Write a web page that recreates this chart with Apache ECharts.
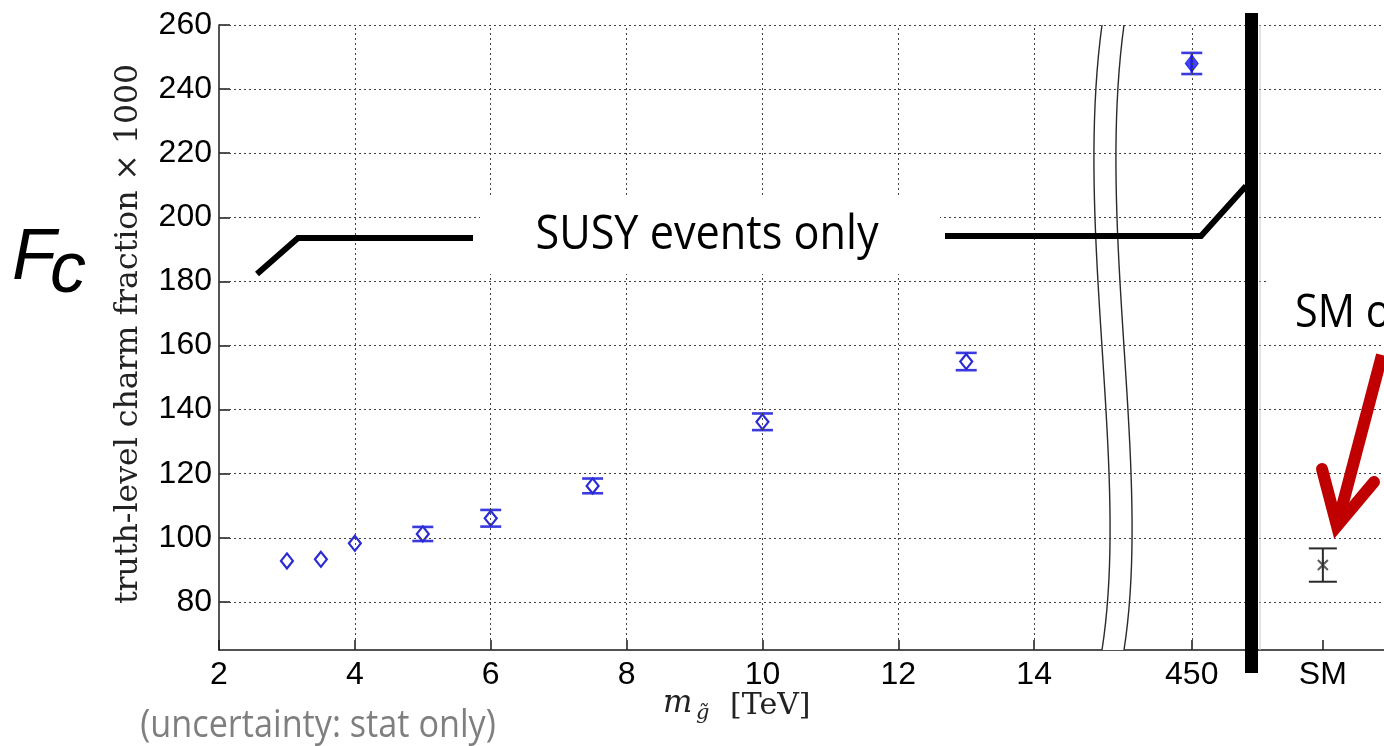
<!DOCTYPE html>
<html>
<head>
<meta charset="utf-8">
<script src="https://cdn.jsdelivr.net/npm/echarts@6/dist/echarts.min.js"></script>
<style>
  html, body { margin: 0; padding: 0; background: #ffffff; }
  #chart { width: 1384px; height: 746px; }
</style>
</head>
<body>
<div id="chart"></div>
<script>
// SUSY samples: gluino mass (TeV) vs truth-level charm fraction (x1000), stat. errors
const gluinoMass = [3, 3.5, 4, 5, 6, 7.5, 10, 13];
const charmFrac  = [92.8, 93.3, 98.3, 101.2, 106.1, 116.2, 136.2, 155.0];
const charmErr   = [0, 0, 0, 2.2, 2.6, 2.3, 2.6, 2.7];

// 450 TeV sample, drawn past the axis break
const heavyPos  = [16.32];
const heavyFrac = [248.0];
const heavyErr  = [3.3];

// Standard Model sample
const smPos  = [18.25];
const smFrac = [91.5];
const smErr  = [5.2];

// axis ticks
const xTicks      = [2, 4, 6, 8, 10, 12, 14, 16.32, 18.25];
const xTickLabels = ['2', '4', '6', '8', '10', '12', '14', '450', 'SM'];
const xGridTicks  = [4, 6, 8, 10, 12, 14, 16.32];
const yTicks      = [80, 100, 120, 140, 160, 180, 200, 220, 240, 260];

const BLUE = '#2b2bd6';
const GRID_STYLE = { color: '#444444', width: 1, type: [2, 3] };

const chart = echarts.init(document.getElementById('chart'));

function errorBars(capPx, color, width) {
  return function (params, api) {
    const x = api.value(0), y = api.value(1), e = api.value(2);
    if (!e) return { type: 'group', children: [] };
    const top = api.coord([x, y + e]);
    const bot = api.coord([x, y - e]);
    const st = { stroke: color, lineWidth: width, fill: null };
    return {
      type: 'group',
      children: [
        { type: 'line', shape: { x1: top[0], y1: top[1], x2: bot[0], y2: bot[1] }, style: st },
        { type: 'line', shape: { x1: top[0] - capPx / 2, y1: top[1], x2: top[0] + capPx / 2, y2: top[1] }, style: st },
        { type: 'line', shape: { x1: bot[0] - capPx / 2, y1: bot[1], x2: bot[0] + capPx / 2, y2: bot[1] }, style: st }
      ]
    };
  };
}

// axis-break band: two wavy strokes with a white gap between them
function bezierPts(x0, y0, c1x, c1y, c2x, c2y, x1, y1, n) {
  const pts = [];
  for (let i = 0; i <= n; i++) {
    const t = i / n, u = 1 - t;
    pts.push([
      u * u * u * x0 + 3 * u * u * t * c1x + 3 * u * t * t * c2x + t * t * t * x1,
      u * u * u * y0 + 3 * u * u * t * c1y + 3 * u * t * t * c2y + t * t * t * y1
    ]);
  }
  return pts;
}
const breakL = bezierPts(1102, 25, 1074, 230, 1130, 470, 1102, 650, 40);
const breakR = bezierPts(1124, 25, 1096, 230, 1152, 470, 1124, 650, 40);
const breakMask = breakL.concat(breakR.slice().reverse());

const option = {
  animation: false,
  backgroundColor: '#ffffff',
  grid: { left: 219, right: 0, top: 25, bottom: 96, containLabel: false, outerBoundsMode: 'none' },
  xAxis: {
    type: 'value', min: 2, max: 19.15,
    axisLine: { onZero: false, lineStyle: { color: '#1a1a1a', width: 1.5 } },
    axisTick: { customValues: xTicks, inside: true, length: 10, lineStyle: { color: '#1a1a1a', width: 1.5 } },
    axisLabel: {
      customValues: xTicks, margin: 9, color: '#000',
      fontFamily: 'Liberation Sans', fontSize: 32,
      formatter: function (v) {
        const i = xTicks.findIndex(t => Math.abs(t - v) < 1e-6);
        return i >= 0 ? xTickLabels[i] : '';
      }
    },
    splitLine: { show: false }
  },
  yAxis: {
    type: 'value', min: 65, max: 260,
    axisLine: { show: true, lineStyle: { color: '#1a1a1a', width: 1.5 } },
    axisTick: { customValues: yTicks, inside: true, length: 11, lineStyle: { color: '#1a1a1a', width: 1.5 } },
    axisLabel: { customValues: yTicks, margin: 7, color: '#000', fontFamily: 'Liberation Sans', fontSize: 32 },
    splitLine: { show: false }
  },
  series: [
    {
      // dotted grid
      type: 'scatter', data: [], silent: true, z: 1,
      markLine: {
        silent: true, symbol: ['none', 'none'], label: { show: false },
        lineStyle: GRID_STYLE, animation: false,
        data: xGridTicks.map(v => ({ xAxis: v })).concat(yTicks.map(v => ({ yAxis: v })))
      }
    },
    {
      type: 'custom', z: 2,
      renderItem: errorBars(21, '#3a3ade', 2.6),
      data: gluinoMass.map((m, i) => [m, charmFrac[i], charmErr[i]])
        .concat(heavyPos.map((p, i) => [p, heavyFrac[i], heavyErr[i]]))
    },
    {
      type: 'custom', z: 2,
      renderItem: errorBars(28, '#2a2a2a', 2),
      data: smPos.map((p, i) => [p, smFrac[i], smErr[i]])
    },
    {
      type: 'scatter', z: 3, symbol: 'diamond', symbolSize: [12, 15],
      itemStyle: { color: '#ffffff', borderColor: BLUE, borderWidth: 2.2, opacity: 1 },
      data: gluinoMass.map((m, i) => [m, charmFrac[i]])
    },
    {
      type: 'scatter', z: 3, symbol: 'diamond', symbolSize: [13, 17],
      itemStyle: { color: '#1414f0', borderColor: '#1414f0', borderWidth: 1 },
      data: heavyPos.map((p, i) => [p, heavyFrac[i]])
    },
    {
      type: 'scatter', z: 3, symbol: 'path://M0,0L10,10M10,0L0,10M5,0L5,10', symbolSize: 10,
      itemStyle: { color: 'transparent', borderColor: '#333', borderWidth: 2 },
      data: smPos.map((p, i) => [p, smFrac[i]])
    }
  ],
  graphic: {
    elements: [
      // axis break
      { type: 'polygon', z: 5, silent: true, shape: { points: breakMask }, style: { fill: '#ffffff', stroke: null } },
      { type: 'polyline', z: 6, silent: true, shape: { points: breakL }, style: { stroke: '#2a2a2a', lineWidth: 1.4, fill: null } },
      { type: 'polyline', z: 6, silent: true, shape: { points: breakR }, style: { stroke: '#2a2a2a', lineWidth: 1.4, fill: null } },

      // separator between SUSY and SM panels
      { type: 'line', z: 6, silent: true, shape: { x1: 1260, y1: 25, x2: 1260, y2: 650 }, style: { stroke: '#c8c8c8', lineWidth: 1 } },
      { type: 'rect', z: 10, silent: true, shape: { x: 1245, y: 13, width: 13, height: 660 }, style: { fill: '#000' } },

      // "SUSY events only" bracket
      { type: 'rect', z: 8, silent: true, shape: { x: 480, y: 198, width: 460, height: 76 }, style: { fill: '#ffffff' } },
      { type: 'polyline', z: 10, silent: true, shape: { points: [[257, 274], [298, 238], [473, 238]] },
        style: { stroke: '#000', lineWidth: 6, fill: null, lineJoin: 'miter' } },
      { type: 'polyline', z: 10, silent: true, shape: { points: [[945, 236], [1201, 236], [1246, 186]] },
        style: { stroke: '#000', lineWidth: 6, fill: null, lineJoin: 'miter' } },
      { type: 'text', z: 10, silent: true, x: 707, y: 235, scaleX: 0.9,
        style: { text: 'SUSY events only', x: 0, y: 0, align: 'center', verticalAlign: 'middle',
                 fontFamily: 'Open Sans', fontSize: 48, fill: '#000' } },

      // SM label and arrow
      { type: 'rect', z: 8, silent: true, shape: { x: 1267, y: 268, width: 130, height: 70 }, style: { fill: '#ffffff' } },
      { type: 'text', z: 10, silent: true, x: 1295, y: 314, scaleX: 0.9,
        style: { text: 'SM only', x: 0, y: 0, align: 'left', verticalAlign: 'middle',
                 fontFamily: 'Open Sans', fontSize: 46, fill: '#000' } },
      { type: 'line', z: 11, silent: true, shape: { x1: 1382, y1: 355, x2: 1338, y2: 522 },
        style: { stroke: '#c00000', lineWidth: 12 } },
      { type: 'polyline', z: 11, silent: true, shape: { points: [[1322, 469], [1337, 526], [1374, 482]] },
        style: { stroke: '#c00000', lineWidth: 12, fill: null, lineJoin: 'miter', lineCap: 'round' } },

      // F_c
      { type: 'text', z: 10, silent: true, x: 12, y: 259,
        style: { text: 'F', x: 0, y: 0, align: 'left', verticalAlign: 'middle',
                 fontFamily: 'Liberation Sans', fontStyle: 'italic', fontSize: 72, fill: '#000' } },
      { type: 'text', z: 10, silent: true, x: 50, y: 272,
        style: { text: 'c', x: 0, y: 0, align: 'left', verticalAlign: 'middle',
                 fontFamily: 'Liberation Sans', fontStyle: 'italic', fontSize: 72, fill: '#000' } },

      // axis titles
      { type: 'text', z: 10, silent: true, x: 129, y: 334, rotation: Math.PI / 2,
        style: { text: 'truth-level charm fraction × 1000', x: 0, y: 0, align: 'center', verticalAlign: 'middle',
                 fontFamily: 'DejaVu Serif', fontSize: 31.5, fill: '#222' } },
      { type: 'text', z: 10, silent: true, x: 663, y: 704,
        style: { text: 'm', x: 0, y: 0, align: 'left', verticalAlign: 'middle',
                 fontFamily: 'DejaVu Serif', fontStyle: 'italic', fontSize: 31, fill: '#222' } },
      { type: 'text', z: 10, silent: true, x: 696, y: 714,
        style: { text: 'g̃', x: 0, y: 0, align: 'left', verticalAlign: 'middle',
                 fontFamily: 'DejaVu Serif', fontStyle: 'italic', fontSize: 21, fill: '#222' } },
      { type: 'text', z: 10, silent: true, x: 730, y: 706,
        style: { text: '[TeV]', x: 0, y: 0, align: 'left', verticalAlign: 'middle',
                 fontFamily: 'DejaVu Serif', fontSize: 30, fill: '#222' } },

      // note under the axis
      { type: 'text', z: 10, silent: true, x: 318, y: 726, scaleX: 0.9,
        style: { text: '(uncertainty: stat only)', x: 0, y: 0, align: 'center', verticalAlign: 'middle',
                 fontFamily: 'Open Sans', fontSize: 38, fill: '#7f7f7f' } }
    ]
  }
};

chart.setOption(option);
</script>
</body>
</html>
